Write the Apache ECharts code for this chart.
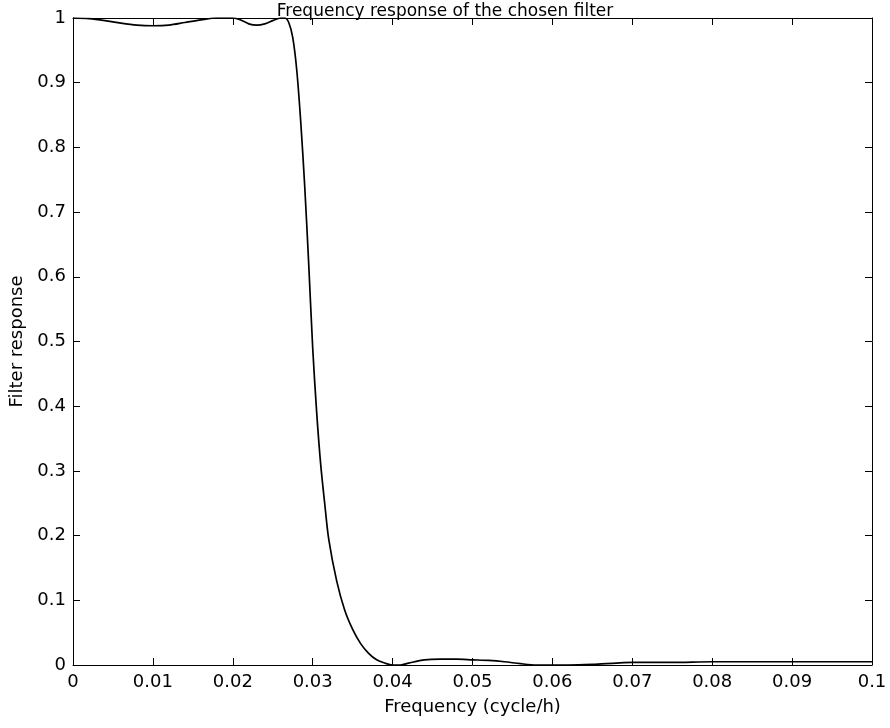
<!DOCTYPE html>
<html>
<head>
<meta charset="utf-8">
<script src="https://cdn.jsdelivr.net/npm/echarts@6/dist/echarts.min.js"></script>
<style>
  html, body { margin: 0; padding: 0; background: #fff; }
  #main { width: 890px; height: 728px; }
</style>
</head>
<body>
<div id="main"></div>
<script>
// frequency (cycle/h)
var freq = [0, 0.002, 0.004, 0.006, 0.008, 0.010, 0.012, 0.014, 0.016, 0.018, 0.020,
  0.021, 0.022, 0.023, 0.024, 0.025, 0.026, 0.0265, 0.027, 0.0275, 0.028, 0.0285,
  0.029, 0.0295, 0.030, 0.0305, 0.031, 0.0315, 0.032, 0.033, 0.034, 0.035, 0.036,
  0.037, 0.038, 0.039, 0.040, 0.041, 0.042, 0.044, 0.046, 0.048, 0.050, 0.052,
  0.054, 0.056, 0.058, 0.060, 0.062, 0.065, 0.068, 0.070, 0.075, 0.080, 0.085,
  0.090, 0.095, 0.100];
// filter response
var response = [1.0, 0.999, 0.996, 0.992, 0.989, 0.988, 0.989, 0.993, 0.997, 1.0, 1.0,
  0.997, 0.991, 0.989, 0.991, 0.996, 1.0, 1.0, 0.993, 0.97, 0.92, 0.84,
  0.74, 0.62, 0.49, 0.39, 0.31, 0.25, 0.195, 0.13, 0.085, 0.055, 0.033,
  0.018, 0.008, 0.003, 0.0, 0.0, 0.003, 0.008, 0.009, 0.009, 0.008, 0.007,
  0.005, 0.002, 0.0, 0.0, 0.0, 0.001, 0.003, 0.004, 0.004, 0.005, 0.005,
  0.005, 0.005, 0.005];

var font = 'DejaVu Sans';
var chart = echarts.init(document.getElementById('main'));

var pts = [];
for (var i = 0; i < freq.length; i++) {
  pts.push([freq[i], response[i]]);
}

// ligne d'axe noire, pas de onZero pour garder le cadre
function axLine() {
  return { show: true, onZero: false, lineStyle: { color: '#000', width: 1 } };
}
function tick() {
  return { show: true, inside: true, length: 7, lineStyle: { color: '#000' } };
}

option = {
  animation: false,
  backgroundColor: '#fff',
  title: {
    text: 'Frequency response of the chosen filter',
    left: 'center',
    top: -2,
    textStyle: { fontFamily: font, fontSize: 17, fontWeight: 'normal', color: '#000' }
  },
  grid: { left: 73, right: 18, top: 18, bottom: 63 },
  xAxis: [{
    type: 'value', min: 0, max: 0.1, interval: 0.01,
    name: 'Frequency (cycle/h)', nameLocation: 'middle', nameGap: 33,
    nameTextStyle: { fontFamily: font, fontSize: 18, color: '#000' },
    axisLine: axLine(), axisTick: tick(), splitLine: { show: false },
    axisLabel: { fontFamily: font, fontSize: 18, color: '#000', margin: 8 }
  }, {
    type: 'value', position: 'top', min: 0, max: 0.1, interval: 0.01,
    axisLine: axLine(), axisTick: tick(), splitLine: { show: false },
    axisLabel: { show: false }
  }],
  yAxis: [{
    type: 'value', min: 0, max: 1, interval: 0.1,
    name: 'Filter response', nameLocation: 'middle', nameGap: 42,
    nameTextStyle: { fontFamily: font, fontSize: 18, color: '#000' },
    axisLine: axLine(), axisTick: tick(), splitLine: { show: false },
    axisLabel: { fontFamily: font, fontSize: 18, color: '#000', margin: 7 }
  }, {
    type: 'value', position: 'right', min: 0, max: 1, interval: 0.1,
    axisLine: axLine(), axisTick: tick(), splitLine: { show: false },
    axisLabel: { show: false }
  }],
  series: [{
    type: 'line',
    xAxisIndex: 0,
    yAxisIndex: 0,
    data: pts,
    smooth: 0.3,
    showSymbol: false,
    lineStyle: { color: '#000', width: 1.7 }
  }]
};
chart.setOption(option);
</script>
</body>
</html>
